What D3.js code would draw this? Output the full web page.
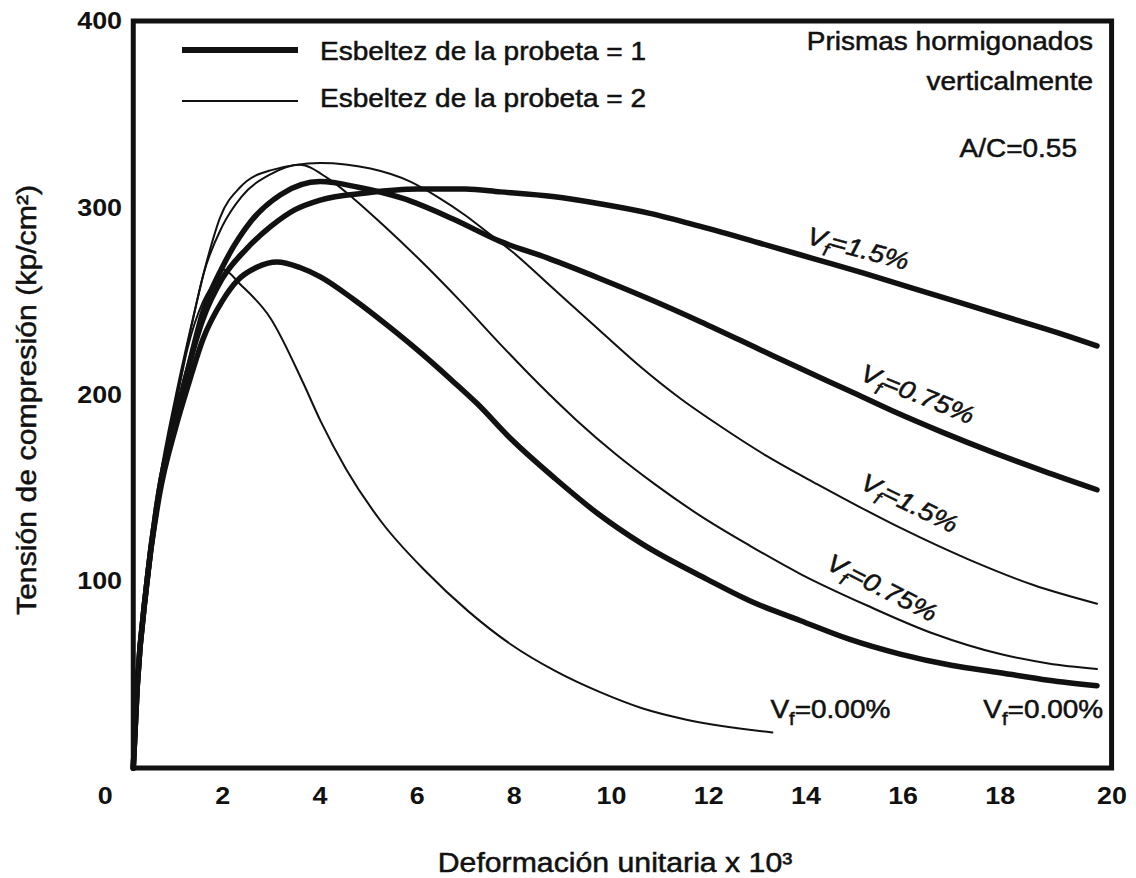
<!DOCTYPE html>
<html>
<head>
<meta charset="utf-8">
<script src="https://cdn.jsdelivr.net/npm/d3@7"></script>
<style>
body { margin: 0; background: #fff; }
text { font-family: "Liberation Sans", Arial, sans-serif; fill: #111; }
</style>
</head>
<body>
<div id="chart"></div>
<script>
// values: strain (x10^3) and stress (kp/cm2)
// thick lines: esbeltez = 1
const t15Strain = [0.17, 0.25, 0.44, 0.7, 1.05, 1.3, 1.6, 2.0, 2.5, 3.0, 3.5, 4.0, 5.0, 6.0, 7.0, 7.72, 8.8, 9.8, 10.8, 11.84, 13.07, 14.2, 15.2, 16.2, 17.2, 18.2, 19.2, 20.0]
const t15Stress = [0, 43, 97, 148, 188, 214, 240, 262, 278, 290, 299, 304, 308, 310, 310, 308.5, 306, 302, 297, 290, 281, 272.5, 265, 257, 249, 241, 233, 226]

const t075Strain = [0.17, 0.25, 0.44, 0.7, 1.05, 1.3, 1.6, 2.0, 2.6, 3.2, 4.02, 4.8, 5.72, 6.75, 7.72, 8.7, 9.78, 10.8, 11.84, 13.07, 13.89, 14.9, 15.81, 16.8, 17.86, 18.9, 20.0]
const t075Stress = [0, 43, 97, 148, 188, 214, 244, 268, 293, 307, 314, 311, 305, 294, 282, 273, 262, 251, 239, 224, 214, 202, 191, 180, 169, 159, 149]

const t0Strain = [0.17, 0.25, 0.44, 0.7, 1.05, 1.3, 1.61, 2.0, 2.31, 2.7, 3.13, 3.6, 4.02, 4.7, 5.4, 6.1, 6.75, 7.25, 7.95, 8.85, 9.74, 10.64, 11.98, 12.9, 13.89, 14.9, 15.95, 17.0, 18.01, 19.0, 20.0]
const t0Stress = [0, 43, 97, 145, 183, 205, 230, 250, 261, 268, 271, 268, 263, 251, 237, 222, 207, 195, 176, 155, 136, 120, 101, 89, 79, 69, 61, 55, 51, 47, 44]

// thin lines: esbeltez = 2
const s15Strain = [0.17, 0.25, 0.44, 0.7, 1.05, 1.4, 1.69, 1.96, 2.37, 2.99, 4.02, 5.05, 5.87, 6.42, 7.0, 7.45, 7.99, 8.8, 9.78, 10.6, 11.42, 12.25, 13.21, 14.24, 15.1, 16.0, 17.33, 18.69, 20.0]
const s15Stress = [0, 45, 100, 152, 200, 241, 272, 295, 311, 320, 324, 321, 314, 306, 296, 287, 276, 257, 234, 215, 198, 183, 167, 152, 140, 128, 112, 98, 88]

const s075Strain = [0.17, 0.25, 0.44, 0.7, 1.05, 1.38, 1.61, 2.0, 2.4, 3.0, 3.6, 4.16, 4.7, 5.3, 6.07, 6.9, 7.72, 8.5, 9.3, 10.1, 10.9, 11.84, 12.86, 13.89, 15.27, 16.63, 18.01, 19.0, 20.0]
const s075Stress = [0, 45, 100, 150, 197, 238, 264, 290, 306, 318, 323, 316, 305, 291, 272, 250, 227, 206, 186, 168, 152, 135, 119, 104, 87, 72, 61, 56, 53]

const s0Strain = [0.17, 0.25, 0.44, 0.7, 1.05, 1.28, 1.61, 1.81, 2.02, 2.37, 2.99, 3.67, 4.02, 4.55, 5.27, 6.16, 7.06, 7.95, 8.85, 9.74, 10.64, 11.53, 13.32]
const s0Stress = [0, 45, 100, 150, 195, 224, 250, 259, 267, 259, 241, 206, 186, 160, 132, 106, 84, 66, 52, 41, 32, 26, 19]

const xTicks = [0, 2, 4, 6, 8, 10, 12, 14, 16, 18, 20]
const yTicks = [100, 200, 300, 400]
const xFrame = [0.17, 20.3]

// curve labels: [text after "V", strain, stress, angle, italic]
const curveLabels = [
    ['=1.5%', 14.0, 281, 15, true],
    ['=0.75%', 15.1, 208, 22, true],
    ['=1.5%', 15.1, 150, 26, true],
    ['=0.75%', 14.4, 107, 27, true],
    ['=0.00%', 13.28, 27, 0, false],
    ['=0.00%', 17.66, 27, 0, false]
]

const series = [
    {strain: t15Strain, stress: t15Stress, thick: true},
    {strain: t075Strain, stress: t075Stress, thick: true},
    {strain: t0Strain, stress: t0Stress, thick: true},
    {strain: s15Strain, stress: s15Stress, thick: false},
    {strain: s075Strain, stress: s075Stress, thick: false},
    {strain: s0Strain, stress: s0Stress, thick: false}
]

var width = 1136
var height = 878
var stretch = 1.12   // the scanned lettering is a bit wide

var svg = d3.select('#chart')
    .append('svg')
    .attr('width', width)
    .attr('height', height)

var x = d3.scaleLinear().domain([0, 20]).range([125, 1097])
var y = d3.scaleLinear().domain([0, 400]).range([768, 21])

var ink = '#111'

function addText(parent, px, py, angle, anchor, size) {
    return parent.append('text')
        .attr('transform', `translate(${px},${py}) rotate(${angle}) scale(${stretch},1)`)
        .attr('text-anchor', anchor)
        .attr('font-size', size)
        .attr('stroke', ink)
        .attr('stroke-width', 0.5)
}

// curves
var line = d3.line()
    .x(d => x(d[0]))
    .y(d => y(d[1]))
    .curve(d3.curveMonotoneX)

svg.append('g')
    .selectAll('path')
    .data(series)
    .enter().append('path')
    .attr('d', d => line(d.strain.map((s, i) => [s, d.stress[i]])))
    .attr('fill', 'none')
    .attr('stroke', ink)
    .attr('stroke-width', d => d.thick ? 5.5 : 2)
    .attr('stroke-linejoin', 'round')
    .attr('stroke-linecap', 'round')

// frame
svg.append('rect')
    .attr('x', x(xFrame[0]))
    .attr('y', y(400))
    .attr('width', x(xFrame[1]) - x(xFrame[0]))
    .attr('height', y(0) - y(400))
    .attr('fill', 'none')
    .attr('stroke', ink)
    .attr('stroke-width', 5)

// axes
var xAxis = svg.append('g')
    .attr('transform', `translate(0, ${y(0)})`)
    .call(d3.axisBottom(x).tickValues(xTicks).tickSize(0).tickPadding(19))
xAxis.select('.domain').remove()
xAxis.selectAll('text')
    .attr('font-size', 24)
    .attr('font-weight', 'bold')
    .attr('font-family', '"Liberation Sans", Arial, sans-serif')
    .attr('fill', ink)
    .attr('transform', `scale(${stretch},1)`)
    .attr('x', d => d === 0 ? -18 : (d === 20 ? 13 : 0))

var yAxis = svg.append('g')
    .attr('transform', `translate(${x(xFrame[0])}, 0)`)
    .call(d3.axisLeft(y).tickValues(yTicks).tickSize(0).tickPadding(10))
yAxis.select('.domain').remove()
yAxis.selectAll('text')
    .attr('font-size', 24)
    .attr('font-weight', 'bold')
    .attr('font-family', '"Liberation Sans", Arial, sans-serif')
    .attr('fill', ink)
    .attr('transform', `scale(${stretch},1)`)

addText(svg, 615, 872, 0, 'middle', 27).text('Deformación unitaria x 10³')
addText(svg, 36, 400, -90, 'middle', 27).text('Tensión de compresión (kp/cm²)')

// legend
var legend = svg.append('g')
var legendRows = [{label: 'Esbeltez de la probeta = 1', w: 6, ly: 50, ty: 60},
                  {label: 'Esbeltez de la probeta = 2', w: 2, ly: 101, ty: 107}]
legendRows.forEach(r => {
    legend.append('line')
        .attr('x1', 182).attr('x2', 298)
        .attr('y1', r.ly).attr('y2', r.ly)
        .attr('stroke', ink)
        .attr('stroke-width', r.w)
    addText(legend, 320, r.ty, 0, 'start', 25).text(r.label)
})

addText(svg, 1093, 50, 0, 'end', 25).text('Prismas hormigonados')
addText(svg, 1093, 90, 0, 'end', 25).text('verticalmente')
addText(svg, 1077, 157, 0, 'end', 25).text('A/C=0.55')

// V_f labels
curveLabels.forEach(l => {
    var t = addText(svg, x(l[1]), y(l[2]), l[3], 'start', 25)
        .attr('font-style', l[4] ? 'italic' : 'normal')
    t.append('tspan').text('V')
    t.append('tspan').attr('font-size', 18).attr('dy', 7).text('f')
    t.append('tspan').attr('dy', -7).text(l[0])
})
</script>
</body>
</html>
